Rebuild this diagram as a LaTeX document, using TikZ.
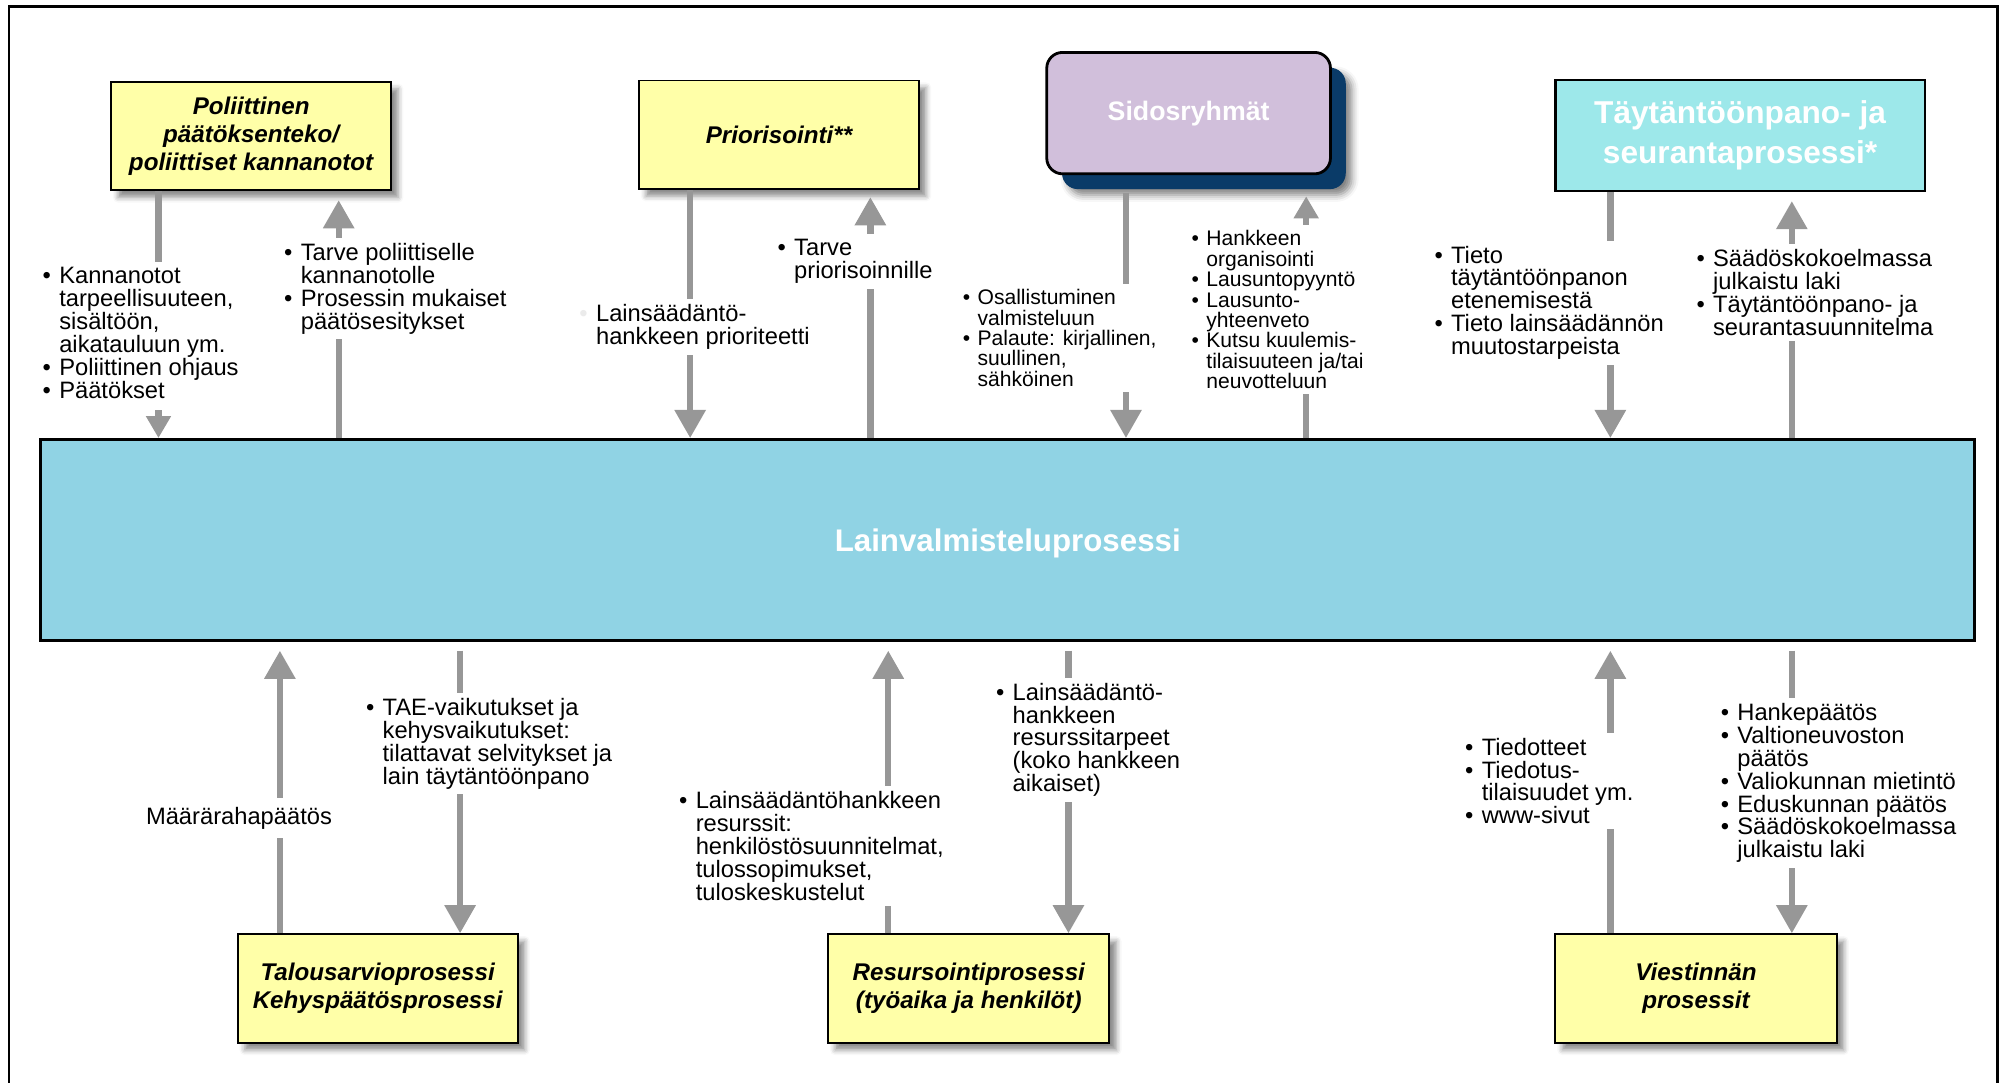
\documentclass[tikz,border=0pt]{standalone}
\usepackage{fontspec}
\setmainfont{Liberation Sans}
\usetikzlibrary{arrows.meta,shadows,shadows.blur}

\definecolor{procyellow}{HTML}{FFFFA8}
\definecolor{mainblue}{HTML}{90D3E4}
\definecolor{seurcyan}{HTML}{9DE8EA}
\definecolor{sidoslila}{HTML}{D1BFDB}
\definecolor{sidosnavy}{HTML}{0A3B68}
\definecolor{flowgray}{HTML}{979797}

\newlength\pxu
\setlength\pxu{0.7273pt}

\newcommand\lblfont{\fontsize{13.5}{13}\selectfont\lineskiplimit=-50pt\lineskip=0pt}
\newcommand\smlfont{\fontsize{12}{11.6}\selectfont\lineskiplimit=-50pt\lineskip=0pt}
\newcommand\boxfont{\fontsize{13.75}{16}\selectfont\bfseries\itshape}
\newcommand\itm{\makebox[0.7em][l]{\textbullet}}
\newcommand\ind{\hspace*{0.7em}}

\begin{document}
\begin{tikzpicture}[x=0.7273pt,y=-0.7273pt]
        \tikzstyle{proc}=[draw, line width=1.1pt, fill=procyellow, font=\boxfont, align=center,
            inner sep=0pt, minimum width=219*\pxu, minimum height=85*\pxu,
            blur shadow={shadow xshift=4pt, shadow yshift=-4pt, shadow blur radius=3pt, shadow opacity=45}]
        \tikzstyle{flow}=[draw=flowgray, line width=3.6pt, -{Triangle[width=17pt,length=16pt]}]
        \tikzstyle{flowsmall}=[flow, -{Triangle[width=13.5pt,length=12.5pt]}]
        \tikzstyle{lbl}=[fill=white, inner sep=3pt, anchor=north west, align=left, font=\lblfont]
        \tikzstyle{lblsmall}=[lbl, font=\smlfont]

        \useasboundingbox (0,0) rectangle (1568,847);
        \draw[line width=1.4pt] (7,847) |- (1563,5) -- (1563,847);

        % processes
        \node[draw, line width=1.8pt, fill=mainblue, minimum width=1513*\pxu, minimum height=157*\pxu,
            text=white, text depth=0pt, font=\fontsize{17.8}{20}\selectfont\bfseries] (main) at (788.5,422.5) {Lainvalmisteluprosessi};
        \node[proc] (pol) at (196.5,106.5) {Poliittinen\\päätöksenteko/\\poliittiset kannanotot};
        \node[proc] (prio) at (609.5,105.5) {Priorisointi**};
        \node[draw, line width=1.6pt, rounded corners=9pt, fill=sidoslila, minimum width=222*\pxu,
            minimum height=95*\pxu, text=white, font=\fontsize{15.2}{18}\selectfont\bfseries,
            blur shadow={shadow xshift=12pt, shadow yshift=-12pt, shadow blur radius=4pt, shadow opacity=50},
            general shadow={fill=sidosnavy, shadow xshift=8.7pt, shadow yshift=-8.7pt}] (sid) at (930,88.5) {Sidosryhmät};
        \node[draw, line width=1.4pt, fill=seurcyan, minimum width=289*\pxu, minimum height=87*\pxu,
            text=white, align=center, font=\fontsize{18}{22.5}\selectfont\bfseries] (seur) at (1361.5,106) {Täytäntöönpano- ja\\seurantaprosessi*};
        \node[proc] (talous) at (295.5,773.5) {Talousarvioprosessi\\Kehyspäätösprosessi};
        \node[proc, minimum width=220*\pxu] (resu) at (758,773.5) {Resursointiprosessi\\(työaika ja henkilöt)};
        \node[proc, minimum width=220*\pxu] (viest) at (1327,773.5) {Viestinnän\\prosessit};

        \foreach \n/\x in {a/124, b/265, c/540, d/681, e/881, f/1022, g/1260, h/1402, i/219, j/360, k/695, l/836}
            \coordinate (x\n) at (\x,0);

        \draw[flowsmall] (pol.south -| xa) -- (main.north -| xa);                   % pol->main
        \draw[flow, shorten >=5pt] (main.north -| xb) -- (pol.south -| xb);         % main->pol
        \draw[flow] (prio.south -| xc) -- (main.north -| xc);                        % prio->main
        \draw[flow, shorten >=4pt] (main.north -| xd) -- (prio.south -| xd);        % main->prio
        \draw[flow, shorten <=10pt] (sid.south -| xe) -- (main.north -| xe);        % sid->main
        \draw[flowsmall, shorten >=12pt] (main.north -| xf) -- (sid.south -| xf);   % main->sid
        \draw[flow] (seur.south -| xg) -- (main.north -| xg);                        % seur->main
        \draw[flow, shorten >=5pt] (main.north -| xh) -- (seur.south -| xh);        % main->seur
        \draw[flow, shorten >=5pt] (talous.north -| xi) -- (main.south -| xi);      % talous->main
        \draw[flow, shorten <=5pt] (main.south -| xj) -- (talous.north -| xj);      % main->talous
        \draw[flow, shorten >=5pt] (resu.north -| xk) -- (main.south -| xk);        % resu->main
        \draw[flow, shorten <=5pt] (main.south -| xl) -- (resu.north -| xl);        % main->resu
        \draw[flow, shorten >=5pt] (viest.north -| xg) -- (main.south -| xg);       % viest->main
        \draw[flow, shorten <=5pt] (main.south -| xh) -- (viest.north -| xh);       % main->viest

        % labels on the flows
        \node[lbl, text depth=3.5pt] (l1) at (29,205) {\itm Kannanotot\\\ind tarpeellisuuteen,\\\ind sisältöön,\\\ind aikatauluun ym.\\
            \itm Poliittinen ohjaus\\\itm Päätökset};
        \node[lbl] (l2) at (218,186) {\itm Tarve poliittiselle\\\ind kannanotolle\\
            \itm Prosessin mukaiset\\\ind päätösesitykset};
        \node[lbl] (l3) at (449,234) {\makebox[0.7em][l]{\color{black!8}\textbullet}Lainsäädäntö-\\\ind hankkeen prioriteetti};
        \node[lbl] (l4) at (604,183) {\itm Tarve\\\ind priorisoinnille};
        \node[lblsmall] (l5) at (749,222) {\itm Osallistuminen\\\ind valmisteluun\\
            \itm Palaute: kirjallinen,\\\ind suullinen,\\\ind sähköinen};
        \node[lblsmall] (l6) at (928,176) {\itm Hankkeen\\\ind organisointi\\\itm Lausuntopyyntö\\
            \itm Lausunto-\\\ind yhteenveto\\\itm Kutsu kuulemis-\\\ind tilaisuuteen ja/tai\\\ind neuvotteluun};
        \node[lbl] (l7) at (1118,188) {\itm Tieto\\\ind täytäntöönpanon\\\ind etenemisestä\\
            \itm Tieto lainsäädännön\\\ind muutostarpeista};
        \node[lbl] (l8) at (1323,191) {\itm Säädöskokoelmassa\\\ind julkaistu laki\\
            \itm Täytäntöönpano- ja\\\ind seurantasuunnitelma};
        \node[lbl, anchor=center, inner sep=5pt] (l9) at (187,640) {Määrärahapäätös};
        \node[lbl] (l10) at (282,542) {\itm TAE-vaikutukset ja\\\ind kehysvaikutukset:\\
            \ind tilattavat selvitykset ja\\\ind lain täytäntöönpano};
        \node[lbl] (l11) at (527,615) {\itm Lainsäädäntöhankkeen\\\ind resurssit:\\
            \ind henkilöstösuunnitelmat,\\\ind tulossopimukset,\\\ind tuloskeskustelut};
        \node[lbl] (l12) at (775,530) {\itm Lainsäädäntö-\\\ind hankkeen\\\ind resurssitarpeet\\
            \ind (koko hankkeen\\\ind aikaiset)};
        \node[lbl] (l13) at (1142,573) {\itm Tiedotteet\\\itm Tiedotus-\\\ind tilaisuudet ym.\\
            \itm www-sivut};
        \node[lbl] (l14) at (1342,546) {\itm Hankepäätös\\\itm Valtioneuvoston\\\ind päätös\\
            \itm Valiokunnan mietintö\\\itm Eduskunnan päätös\\
            \itm Säädöskokoelmassa\\\ind julkaistu laki};
\end{tikzpicture}
\end{document}
